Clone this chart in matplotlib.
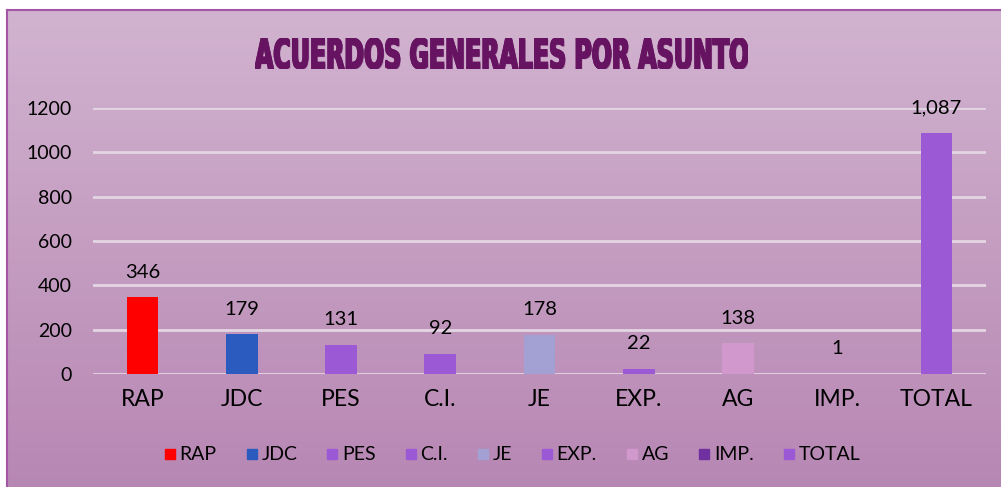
import numpy as np
import matplotlib.pyplot as plt
import matplotlib.patheffects as pe
from matplotlib.lines import Line2D
from matplotlib.textpath import TextPath
from matplotlib.patches import PathPatch
from matplotlib.font_manager import FontProperties
plt.switch_backend('Agg')

categorias = ["RAP", "JDC", "PES", "C.I.", "JE", "EXP.", "AG", "IMP.", "TOTAL"]
valores = [346, 179, 131, 92, 178, 22, 138, 1, 1087]
etiquetas = ["346", "179", "131", "92", "178", "22", "138", "1", "1,087"]
colores = ["#ff0000", "#2b5bbf", "#9b59d6", "#9b59d6", "#a3a1d3",
           "#9b59d6", "#d198cd", "#7030a0", "#9b59d6"]
ticks_y = [0, 200, 400, 600, 800, 1000, 1200]
titulo = "ACUERDOS GENERALES POR ASUNTO"

fuente = "Lato"
W, H = 1001, 487
fig = plt.figure(figsize=(W / 100, H / 100), dpi=100)
fig.patch.set_facecolor("white")

# fondo con degradado; el marco sigue mas alla del borde derecho e inferior
ax_fondo = fig.add_axes([7 / W, -10 / H, (W + 10) / W, H / H])
grad = np.linspace(0, 1, 256).reshape(-1, 1)
top = np.array([0xd1, 0xb3, 0xcf]) / 255
bot = np.array([0xb7, 0x86, 0xb3]) / 255
img = top + (bot - top) * grad[:, :, None]
ax_fondo.imshow(img, aspect="auto", extent=[0, 1, 0, 1], origin="upper")
ax_fondo.set_xlim(0, 1)
ax_fondo.set_ylim(0, 1)
ax_fondo.set_xticks([])
ax_fondo.set_yticks([])
for k, s in ax_fondo.spines.items():
    s.set_color("#a455a8")
    s.set_linewidth(1.5)
    s.set_visible(k in ("top", "left"))

ax = fig.add_axes([93 / W, 113 / H, 893 / W, 266 / H])
ax.set_facecolor("none")
x = np.arange(len(categorias))
barras = ax.bar(x, valores, width=0.32, color=colores, zorder=3)
ax.set_xlim(-0.5, len(categorias) - 0.5)
ax.set_ylim(0, 1200)
ax.set_yticks(ticks_y)
ax.set_yticklabels([str(t) for t in ticks_y], fontsize=14, family=fuente)
ax.set_xticks(x)
ax.set_xticklabels(categorias, fontsize=16.5, family=fuente)
ax.tick_params(axis="y", length=0, pad=15)
ax.tick_params(axis="x", length=0, pad=11)
ax.grid(axis="y", color="#e3d6e3", linewidth=2, zorder=1)
for s in ax.spines.values():
    s.set_visible(False)

for b, t in zip(barras, etiquetas):
    ax.annotate(t, (b.get_x() + b.get_width() / 2, b.get_height()),
                xytext=(0, 12), textcoords="offset points", ha="center",
                va="bottom", fontsize=14.5, family=fuente, color="black",
                annotation_clip=False, zorder=4)

# titulo condensado: trazo del texto estirado a la caja del original
tp = TextPath((0, 0), titulo, size=40,
              prop=FontProperties(family="DejaVu Sans", weight="bold"))
bb = tp.get_extents()
ax_tit = fig.add_axes([255 / W, 1 - 69 / H, (748 - 255) / W, 31 / H])
ax_tit.set_xlim(bb.x0, bb.x1)
ax_tit.set_ylim(bb.y0, bb.y1)
ax_tit.axis("off")
ax_tit.add_patch(PathPatch(tp, facecolor="#661361", edgecolor="#661361",
                           linewidth=1.2,
                           path_effects=[pe.withSimplePatchShadow(
                               offset=(1, -1), shadow_rgbFace="#8a5a88", alpha=0.5),
                               pe.Normal()]))

handles = [Line2D([], [], marker="s", linestyle="none", markersize=7.5,
                  markerfacecolor=c, markeredgecolor=c) for c in colores]
fig.legend(handles, categorias, loc="center", bbox_to_anchor=(0.512, 1 - 455 / H),
           ncol=9, frameon=False, prop={"family": fuente, "size": 14},
           handlelength=0.5, handletextpad=0.25, columnspacing=1.55)

fig.savefig("out.png", dpi=100)
